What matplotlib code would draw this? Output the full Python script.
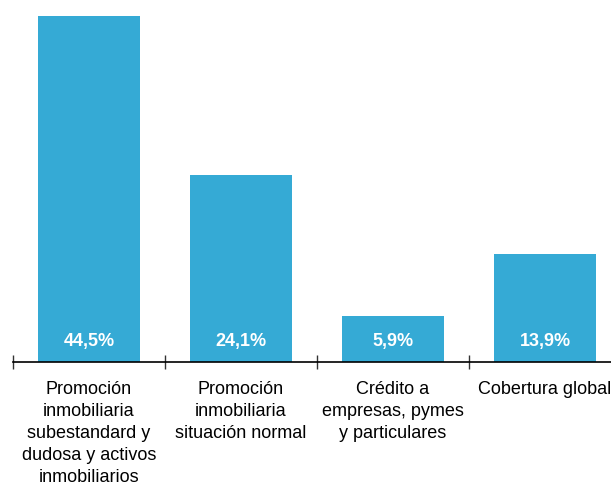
import matplotlib
matplotlib.use("Agg")
import matplotlib.pyplot as plt
from matplotlib.ticker import FixedLocator

categories = [
    "Promoción\ninmobiliaria\nsubestandard y\ndudosa y activos\ninmobiliarios",
    "Promoción\ninmobiliaria\nsituación normal",
    "Crédito a\nempresas, pymes\ny particulares",
    "Cobertura global",
]
values = [44.5, 24.1, 5.9, 13.9]
value_labels = ["44,5%", "24,1%", "5,9%", "13,9%"]

plt.rcParams['font.family'] = ['Liberation Sans', 'DejaVu Sans']

W, H = 611, 489
fig = plt.figure(figsize=(W / 100, H / 100), dpi=100)
left = 13 / W
right = 621 / W
bottom = (H - 363) / H
ax = fig.add_axes([left, bottom, right - left, 1 - bottom])

color = "#35AAD5"
x = list(range(len(values)))
ax.bar(x, values, width=0.67, color=color, zorder=2)

ax.set_xlim(-0.5, len(values) - 0.5)
ax.set_ylim(0, 44.5 * 363 / 346)

for s in ["top", "right", "left"]:
    ax.spines[s].set_visible(False)
ax.spines["bottom"].set_color("black")
ax.spines["bottom"].set_linewidth(1.2)
ax.set_yticks([])

ax.set_xticks(x)
ax.set_xticklabels(categories, fontsize=13)
for lbl in ax.get_xticklabels():
    lbl.set_linespacing(1.39)
ax.tick_params(axis="x", which="major", length=0, pad=13)
ax.xaxis.set_minor_locator(FixedLocator([i - 0.5 for i in range(len(values) + 1)]))
ax.tick_params(axis="x", which="minor", direction="inout", length=10, width=1, color="#333333")

for xi, lab in zip(x, value_labels):
    ax.annotate(lab, xy=(xi, 0), xytext=(0, 15.5), textcoords="offset points",
                ha="center", va="center", color="white", fontsize=13,
                fontweight="bold", zorder=3)

fig.savefig("out.png", dpi=100)
